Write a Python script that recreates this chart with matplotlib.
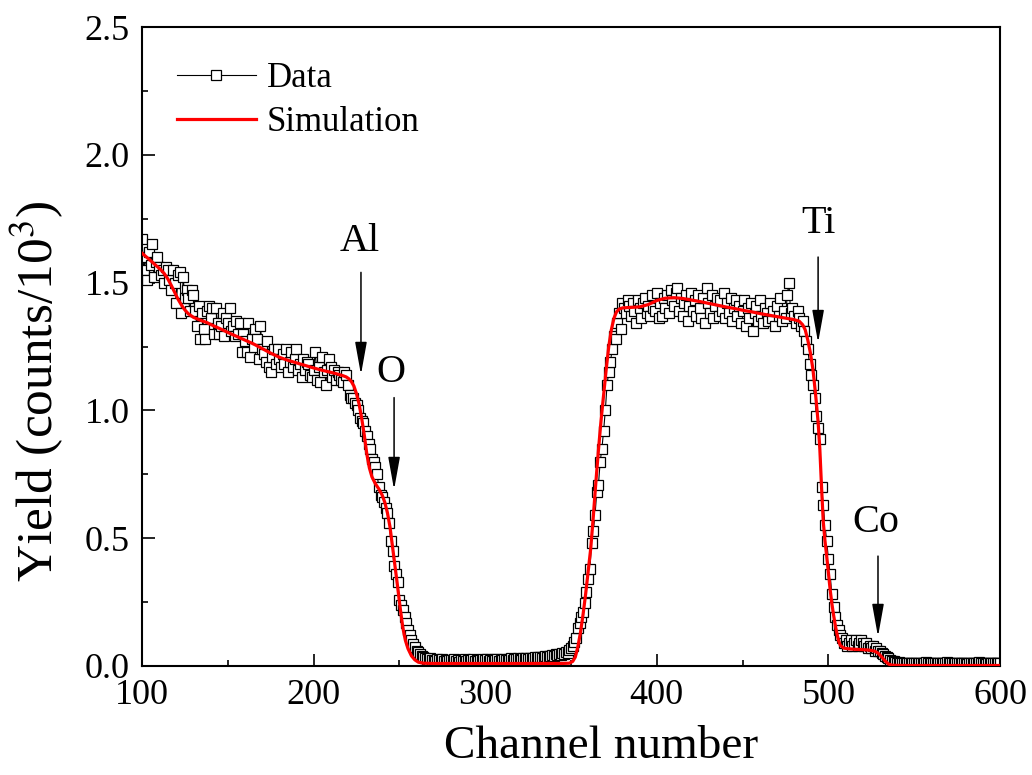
import numpy as np
import matplotlib
matplotlib.use("Agg")
import matplotlib.pyplot as plt
from matplotlib.ticker import MultipleLocator

plt.rcParams['font.family'] = ['Liberation Serif', 'DejaVu Serif']
plt.rcParams['mathtext.fontset'] = 'stix'

# ---------------- data ----------------
channel_start = 100
data_yield = [
    1.67, 1.55, 1.60, 1.51, 1.62, 1.57, 1.65, 1.52, 1.58, 1.60,
    1.56, 1.53, 1.55, 1.50, 1.56, 1.55, 1.51, 1.47, 1.55, 1.50,
    1.42, 1.53, 1.54, 1.38, 1.52, 1.44, 1.47, 1.44, 1.39, 1.47,
    1.45, 1.39, 1.33, 1.41, 1.28, 1.38, 1.32, 1.28, 1.39, 1.41,
    1.36, 1.40, 1.30, 1.40, 1.34, 1.30, 1.33, 1.38, 1.29, 1.36,
    1.34, 1.40, 1.31, 1.33, 1.29, 1.35, 1.30, 1.34, 1.23, 1.30,
    1.27, 1.23, 1.34, 1.21, 1.28, 1.25, 1.32, 1.28, 1.20, 1.33,
    1.24, 1.22, 1.19, 1.27, 1.17, 1.15, 1.21, 1.24, 1.18, 1.24,
    1.20, 1.17, 1.22, 1.18, 1.24, 1.15, 1.19, 1.23, 1.17, 1.20,
    1.24, 1.16, 1.18, 1.13, 1.20, 1.16, 1.19, 1.18, 1.14, 1.13,
    1.16, 1.23, 1.12, 1.17, 1.11, 1.21, 1.15, 1.10, 1.16, 1.20,
    1.17, 1.13, 1.16, 1.12, 1.15, 1.14, 1.12, 1.11, 1.15, 1.14,
    1.10, 1.06, 1.05, 1.05, 1.03, 1.02, 1.00, 0.97, 0.96, 0.95,
    0.92, 0.90, 0.87, 0.85, 0.81, 0.80, 0.78, 0.75, 0.70, 0.67,
    0.66, 0.64, 0.62, 0.60, 0.56, 0.49, 0.45, 0.39, 0.36, 0.33,
    0.26, 0.24, 0.22, 0.19, 0.17, 0.14, 0.12, 0.10, 0.085, 0.075,
    0.060, 0.055, 0.045, 0.040, 0.035, 0.030, 0.028, 0.025, 0.030, 0.022,
    0.025, 0.020, 0.027, 0.022, 0.018, 0.026, 0.021, 0.024, 0.019, 0.025,
    0.022, 0.018, 0.026, 0.020, 0.024, 0.017, 0.023, 0.021, 0.026, 0.019,
    0.024, 0.020, 0.022, 0.027, 0.018, 0.023, 0.021, 0.025, 0.020, 0.026,
    0.022, 0.027, 0.019, 0.024, 0.021, 0.026, 0.023, 0.028, 0.020, 0.025,
    0.024, 0.029, 0.022, 0.027, 0.025, 0.030, 0.023, 0.028, 0.026, 0.031,
    0.027, 0.025, 0.032, 0.028, 0.030, 0.026, 0.033, 0.029, 0.031, 0.035,
    0.030, 0.034, 0.037, 0.032, 0.036, 0.039, 0.035, 0.041, 0.038, 0.043,
    0.040, 0.045, 0.042, 0.048, 0.044, 0.050, 0.048, 0.055, 0.052, 0.062,
    0.070, 0.080, 0.095, 0.110, 0.150, 0.170, 0.190, 0.210, 0.245, 0.290,
    0.34, 0.38, 0.48, 0.53, 0.59, 0.68, 0.71, 0.80, 0.85, 0.92,
    1.00, 1.10, 1.15, 1.19, 1.24, 1.29, 1.28, 1.34, 1.38, 1.32,
    1.42, 1.40, 1.38, 1.43, 1.41, 1.37, 1.42, 1.39, 1.34, 1.43,
    1.40, 1.36, 1.42, 1.44, 1.38, 1.41, 1.37, 1.45, 1.40, 1.39,
    1.46, 1.36, 1.42, 1.37, 1.44, 1.40, 1.45, 1.38, 1.47, 1.43,
    1.41, 1.46, 1.48, 1.39, 1.44, 1.37, 1.42, 1.45, 1.35, 1.41,
    1.46, 1.39, 1.43, 1.37, 1.45, 1.40, 1.36, 1.44, 1.34, 1.48,
    1.42, 1.38, 1.45, 1.36, 1.41, 1.44, 1.37, 1.43, 1.39, 1.46,
    1.36, 1.42, 1.38, 1.44, 1.35, 1.40, 1.43, 1.37, 1.41, 1.34,
    1.39, 1.43, 1.33, 1.40, 1.36, 1.42, 1.31, 1.38, 1.41, 1.35,
    1.43, 1.37, 1.34, 1.40, 1.38, 1.35, 1.42, 1.36, 1.39, 1.33,
    1.41, 1.37, 1.44, 1.35, 1.39, 1.36, 1.45, 1.50, 1.38, 1.40,
    1.37, 1.34, 1.39, 1.36, 1.33, 1.35, 1.31, 1.27, 1.24, 1.18,
    1.14, 1.10, 1.05, 0.98, 0.93, 0.89, 0.70, 0.63, 0.55, 0.49,
    0.42, 0.36, 0.28, 0.23, 0.19, 0.16, 0.14, 0.12, 0.11, 0.09,
    0.10, 0.08, 0.09, 0.10, 0.08, 0.09, 0.10, 0.08, 0.09, 0.10,
    0.09, 0.08, 0.09, 0.07, 0.08, 0.07, 0.08, 0.06, 0.07, 0.06,
    0.06, 0.05, 0.045, 0.04, 0.035, 0.03, 0.025, 0.02, 0.018, 0.015,
    0.012, 0.014, 0.010, 0.013, 0.011, 0.009, 0.012, 0.010, 0.013, 0.011,
    0.010, 0.012, 0.009, 0.013, 0.011, 0.010, 0.012, 0.014, 0.010, 0.011,
    0.013, 0.010, 0.012, 0.009, 0.011, 0.013, 0.010, 0.012, 0.011, 0.014,
    0.010, 0.012, 0.011, 0.009, 0.013, 0.010, 0.012, 0.011, 0.010, 0.013,
    0.011, 0.009, 0.012, 0.010, 0.013, 0.011, 0.010, 0.012, 0.014, 0.010,
    0.012, 0.011, 0.009, 0.013, 0.010, 0.012, 0.011, 0.013, 0.010, 0.012,
    0.011,
]
data_channel = np.arange(channel_start, channel_start + len(data_yield))

sim_channel = [
    100, 104, 108, 111, 113, 115, 117, 119, 121, 123, 125, 127, 130, 134, 138,
    142, 146, 150, 155, 160, 165, 170, 175, 180, 185, 190, 195, 200, 205, 210,
    214, 217, 219, 220.5, 222, 223.5, 225, 226.5, 228, 229.5, 231, 232.5, 234,
    236, 238, 240, 241.5, 243, 244.5, 246.5, 248.5, 250.5, 252, 253.5, 255,
    257, 259, 261, 264, 270, 300, 330, 345, 349, 351, 352.5, 354, 355.5, 357,
    358.5, 360, 361.5, 363, 364.5, 366, 367.5, 369, 370.5, 372, 373.5, 375,
    376.5, 378, 380, 385, 390, 395, 400, 405, 410, 415, 420, 425, 430, 435,
    440, 445, 450, 455, 460, 465, 470, 475, 480, 483, 485, 486.5, 488, 489.5,
    491, 492.5, 494, 495, 496, 497, 498, 499, 500, 501, 502, 503, 504, 505,
    506, 507, 509, 512, 516, 520, 524, 527, 529, 531, 533, 535, 537, 545, 600,
]
sim_yield = [
    1.615, 1.592, 1.568, 1.550, 1.535, 1.515, 1.490, 1.462, 1.435, 1.412, 1.393,
    1.378, 1.364, 1.353, 1.343, 1.330, 1.318, 1.305, 1.290, 1.275, 1.260, 1.242,
    1.224, 1.208, 1.196, 1.186, 1.176, 1.166, 1.157, 1.149, 1.142, 1.136, 1.131,
    1.124, 1.113, 1.095, 1.065, 1.025, 0.970, 0.905, 0.830, 0.775, 0.740, 0.713,
    0.693, 0.668, 0.640, 0.600, 0.545, 0.440, 0.335, 0.225, 0.150, 0.100, 0.068,
    0.040, 0.024, 0.015, 0.011, 0.010, 0.010, 0.010, 0.010, 0.011, 0.018, 0.035,
    0.075, 0.130, 0.200, 0.280, 0.370, 0.460, 0.585, 0.720, 0.845, 0.960, 1.060,
    1.160, 1.250, 1.315, 1.360, 1.385, 1.396, 1.401, 1.403, 1.405, 1.414, 1.430,
    1.439, 1.441, 1.438, 1.432, 1.426, 1.419, 1.412, 1.405, 1.399, 1.392, 1.386,
    1.379, 1.373, 1.367, 1.361, 1.355, 1.349, 1.335, 1.315, 1.275, 1.225, 1.160,
    1.065, 0.955, 0.850, 0.700, 0.565, 0.490, 0.430, 0.365, 0.300, 0.245, 0.200,
    0.160, 0.125, 0.098, 0.080, 0.070, 0.067, 0.065, 0.064, 0.062, 0.058, 0.050,
    0.036, 0.020, 0.008, 0.003, 0.002, 0.002,
]

element_labels = ['Al', 'O', 'Ti', 'Co']
arrow_x = [227.6, 246.9, 494.0, 528.9]
arrow_top = [1.54, 1.05, 1.60, 0.43]
arrow_tip = [1.14, 0.69, 1.265, 0.115]
label_xy = [(227.0, 1.66), (245.1, 1.15), (494.0, 1.73), (527.7, 0.56)]

# ---------------- figure ----------------
fig = plt.figure(figsize=(10.32, 7.75), dpi=100)
ax = fig.add_axes([142 / 1032, 1 - 666 / 775, 858 / 1032, 639 / 775])

ax.plot(data_channel, data_yield, color='black', lw=0.8, marker='s',
        markersize=6.5, markerfacecolor='white', markeredgecolor='black',
        markeredgewidth=0.9, label='Data', zorder=2)
ax.plot(sim_channel, sim_yield, color='#ff0000', lw=2.3, label='Simulation',
        zorder=3)

ax.set_xlim(100, 600)
ax.set_ylim(0, 2.5)
ax.xaxis.set_major_locator(MultipleLocator(100))
ax.xaxis.set_minor_locator(MultipleLocator(50))
ax.yaxis.set_major_locator(MultipleLocator(0.5))
ax.yaxis.set_minor_locator(MultipleLocator(0.25))
ax.yaxis.set_major_formatter(matplotlib.ticker.FormatStrFormatter('%.1f'))

ax.tick_params(which='both', direction='in', top=False, right=False,
               labelsize=26, width=1.2)
ax.tick_params(which='major', length=9, pad=9)
ax.tick_params(which='minor', length=4.5)
for s in ax.spines.values():
    s.set_linewidth(1.5)

ax.set_xlabel('Channel number', fontsize=34)
ax.set_ylabel(r'Yield (counts/10$^{3}$)', fontsize=37)
ax.xaxis.set_label_coords(0.535, -0.093)
ax.yaxis.set_label_coords(-0.088, 0.43)

for lab, x, yt, yp, (tx, ty) in zip(element_labels, arrow_x, arrow_top,
                                     arrow_tip, label_xy):
    ax.annotate('', xy=(x, yp), xytext=(x, yt),
                arrowprops=dict(arrowstyle='-|>,head_length=1.0,head_width=0.18',
                                mutation_scale=20, color='black', lw=1.1,
                                shrinkA=0, shrinkB=0))
    ax.text(tx, ty, lab, fontsize=29, ha='center', va='center')

leg = ax.legend(loc='upper left', bbox_to_anchor=(0.02, 0.972), frameon=False,
                fontsize=25, handlelength=2.3, handletextpad=0.3,
                labelspacing=0.3, borderpad=0, numpoints=1)

fig.savefig('out.png', dpi=100)
